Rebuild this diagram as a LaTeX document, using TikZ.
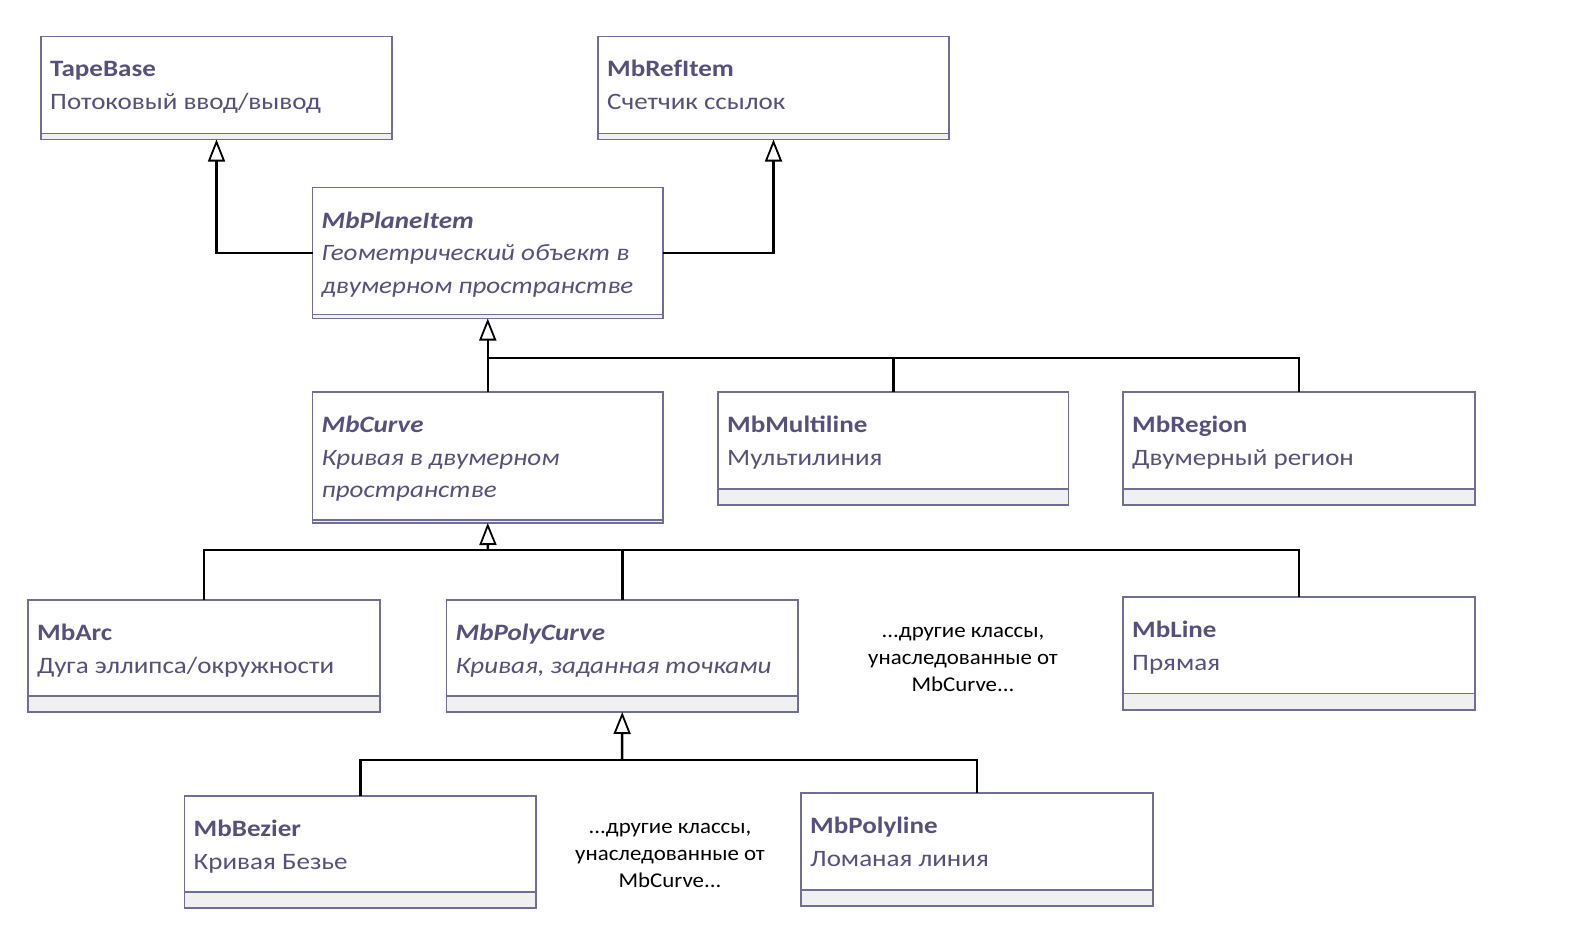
\documentclass[tikz,border=0pt]{standalone}
\usepackage{fontspec}
\setmainfont{Carlito}
\usetikzlibrary{arrows.meta}
\definecolor{txt}{HTML}{57507C}
\definecolor{brd}{HTML}{6E6E96}
\definecolor{bandc}{HTML}{F0F0F0}
\newcommand\umlbox[6]{\node[box, minimum width={#4pt-#2pt}, minimum height={#5pt-#3pt},
  path picture={\fill[bandc] ([yshift=#6pt]path picture bounding box.south west) rectangle (path picture bounding box.south east);
  \draw[brd,line width=1.3pt] ([yshift=#6pt]path picture bounding box.south west) -- ([yshift=#6pt]path picture bounding box.south east);}] (#1) at (#2,#3) {};}
\begin{document}
\begin{tikzpicture}[x=1pt,y=-1pt,
 box/.style={draw=brd, line width=1.3pt, fill=white, inner sep=0pt, outer sep=0pt, anchor=north west},
 ttl/.style={anchor=base west, inner sep=0pt, xscale=1.15, text=txt, font=\fontsize{23.5}{28}\selectfont\bfseries},
 dsc/.style={anchor=base west, inner sep=0pt, xscale=1.15, text=txt, font=\fontsize{23.5}{28}\selectfont},
 ittl/.style={ttl, font=\fontsize{23.5}{28}\selectfont\bfseries\itshape},
 idsc/.style={dsc, font=\fontsize{23.5}{28}\selectfont\itshape},
 note/.style={anchor=base, inner sep=0pt, xscale=1.09, text=black, font=\fontsize{21}{27}\selectfont},
 conn/.style={line width=2.5pt, black},
 inh/.style={conn, -{Triangle[length=22pt, width=17pt, line width=1.8pt, fill=white]}}]
\useasboundingbox (0,0) rectangle (1582,931);

\umlbox{tape}{41}{36.5}{392}{139.5}{6}
\umlbox{ref}{598}{36.5}{949}{139.5}{6}
\umlbox{plane}{312.5}{187.5}{663}{318.5}{4}
\umlbox{curve}{312.5}{392}{663}{523}{3}
\umlbox{multi}{718}{392}{1068.5}{505}{16}
\umlbox{region}{1123}{392}{1475}{505}{16}
\umlbox{arc}{28}{600}{380}{712}{16}
\umlbox{poly}{446.5}{600}{798}{712}{16}
\umlbox{line}{1123}{597}{1475}{710}{16.5}
\umlbox{bezier}{184.5}{796}{536}{908}{16}
\umlbox{polyline}{801}{793}{1153}{906}{16}

\node[ttl] (tape-t) at (50,77) {TapeBase};
\node[dsc] (tape-d) at (50,109.5) {Потоковый ввод/вывод};
\node[ttl] (ref-t) at (607,77) {MbRefItem};
\node[dsc] (ref-d) at (607,109.5) {Счетчик ссылок};
\node[ittl] (plane-t) at (321.5,228) {MbPlaneItem};
\node[idsc] (plane-d1) at (321.5,260.5) {Геометрический объект в};
\node[idsc] (plane-d2) at (321.5,293) {двумерном пространстве};
\node[ittl] (curve-t) at (321.5,432.5) {MbCurve};
\node[idsc] (curve-d1) at (321.5,465) {Кривая в двумерном};
\node[idsc] (curve-d2) at (321.5,497.5) {пространстве};
\node[ttl] (multi-t) at (727,432.5) {MbMultiline};
\node[dsc] (multi-d) at (727,465) {Мультилиния};
\node[ttl] (region-t) at (1132,432.5) {MbRegion};
\node[dsc] (region-d) at (1132,465) {Двумерный регион};
\node[ttl] (arc-t) at (37,640.5) {MbArc};
\node[dsc] (arc-d) at (37,673) {Дуга эллипса/окружности};
\node[ittl] (poly-t) at (455.5,640.5) {MbPolyCurve};
\node[idsc] (poly-d) at (455.5,673) {Кривая, заданная точками};
\node[ttl] (line-t) at (1132,637.5) {MbLine};
\node[dsc] (line-d) at (1132,670) {Прямая};
\node[ttl] (bezier-t) at (193.5,836.5) {MbBezier};
\node[dsc] (bezier-d) at (193.5,869) {Кривая Безье};
\node[ttl] (polyline-t) at (810,833.5) {MbPolyline};
\node[dsc] (polyline-d) at (810,866) {Ломаная линия};

\node[note] (n1a) at (963,637) {...другие классы,};
\node[note] (n1b) at (963,664) {унаследованные от};
\node[note] (n1c) at (963,691) {MbCurve...};
\node[note] (n2a) at (670,833) {...другие классы,};
\node[note] (n2b) at (670,860) {унаследованные от};
\node[note] (n2c) at (670,887) {MbCurve...};

\coordinate (j1) at (488,358);
\coordinate (j2) at (488,550);
\coordinate (j3) at (622,760);

\draw[inh] (plane.west) -| (tape.south);
\draw[inh] (plane.east) -| (ref.south);
\draw[inh] (curve.north) -- (plane.south);
\draw[conn] (j1) -| (multi.north);
\draw[conn] (j1) -| (region.north);
\draw[inh] (j2) -- (curve.south);
\draw[conn] (j2) -| (arc.north);
\draw[conn] (j2) -| (poly.north);
\draw[conn] (j2) -| (line.north);
\draw[inh] (j3) -- (poly.south);
\draw[conn] (j3) -| (bezier.north);
\draw[conn] (j3) -| (polyline.north);
\end{tikzpicture}
\end{document}
